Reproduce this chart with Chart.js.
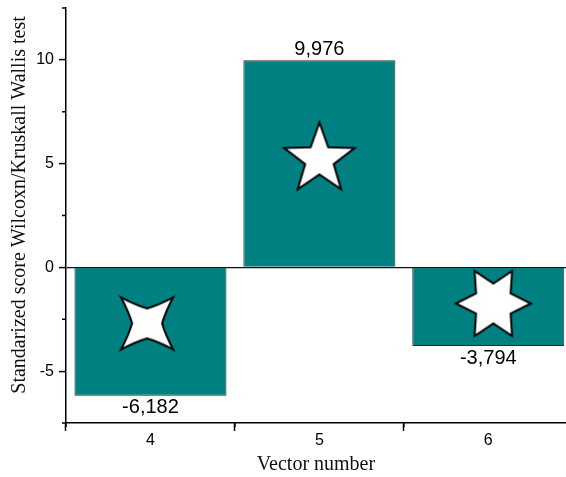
<!DOCTYPE html>
<html>
<head>
<meta charset="utf-8">
<script src="https://cdn.jsdelivr.net/npm/chart.js@4/dist/chart.umd.min.js"></script>
<style>
  html, body { margin: 0; padding: 0; background: #fff; }
  #c { display: block; }
</style>
</head>
<body>
<canvas id="c" width="566" height="477"></canvas>
<script>
// ---- data ----
const categories = [4, 5, 6];
const scores = [-6.182, 9.976, -3.794];
const scoreLabels = ['-6,182', '9,976', '-3,794'];
const markerX = [3.98, 5.0, 6.03];
const markerY = [-2.7, 5.2, -1.74];
const markerPointCounts = [4, 5, 6];
const yTicks = [-5, 0, 5, 10];
const yMinorTicks = [-7.5, -2.5, 2.5, 7.5, 12.5];
const xTicks = [4, 5, 6];
const xMinorTicks = [3.5, 4.5, 5.5];
const xTitle = 'Vector number';
const yTitle = 'Standarized score Wilcoxn/Kruskall Wallis test';

// ---- star images ----
function makeStar(n) {
  const cv = document.createElement('canvas');
  cv.width = 90; cv.height = 90;
  const g = cv.getContext('2d');
  g.translate(45, 45);
  g.beginPath();
  let R, r, start, bend;
  if (n === 4) { R = 37; r = 15; start = -135; bend = 2.5; }
  else if (n === 5) { R = 37; r = 15; start = -90; bend = 0; }
  else { R = 37.5; r = 20; start = 0; bend = 0; }
  const pts = [];
  for (let i = 0; i < 2 * n; i++) {
    const a = (start + i * 180 / n) * Math.PI / 180;
    const rad = i % 2 === 0 ? R : r;
    pts.push([rad * Math.cos(a), rad * Math.sin(a)]);
  }
  g.moveTo(pts[0][0], pts[0][1]);
  for (let i = 1; i <= 2 * n; i++) {
    const p = pts[i - 1], q = pts[i % (2 * n)];
    if (bend) {
      const mx = (p[0] + q[0]) / 2, my = (p[1] + q[1]) / 2;
      const d = Math.hypot(mx, my);
      g.quadraticCurveTo(mx - bend * mx / d, my - bend * my / d, q[0], q[1]);
    } else {
      g.lineTo(q[0], q[1]);
    }
  }
  g.closePath();
  g.fillStyle = '#ffffff';
  g.fill();
  g.lineWidth = 2;
  g.lineJoin = 'miter';
  g.strokeStyle = '#000';
  g.stroke();
  return cv;
}
const starImages = markerPointCounts.map(makeStar);

// ---- plugins ----
const extras = {
  id: 'extras',
  afterDatasetsDraw(chart) {
    const ctx = chart.ctx;
    const meta = chart.getDatasetMeta(0);
    ctx.save();
    ctx.font = '20px "Liberation Sans", Arial, sans-serif';
    ctx.fillStyle = '#000';
    ctx.textAlign = 'center';
    ctx.textBaseline = 'middle';
    meta.data.forEach((el, i) => {
      const y = scores[i] >= 0 ? el.y - 11 : el.y + 12;
      ctx.fillText(scoreLabels[i], el.x, y);
    });
    ctx.restore();
  },
  afterDraw(chart) {
    const ctx = chart.ctx;
    const xs = chart.scales.x, ys = chart.scales.y;
    const area = chart.chartArea;
    ctx.save();
    ctx.strokeStyle = '#000';
    ctx.lineWidth = 1.5;
    ctx.beginPath();
    yMinorTicks.forEach(v => {
      const p = ys.getPixelForValue(v);
      ctx.moveTo(area.left - 4, p);
      ctx.lineTo(area.left, p);
    });
    xMinorTicks.forEach(v => {
      const p = xs.getPixelForValue(v);
      ctx.moveTo(p, area.bottom);
      ctx.lineTo(p, area.bottom + 4);
    });
    ctx.stroke();
    // y axis title
    ctx.font = '20px "Liberation Serif", "Times New Roman", serif';
    ctx.fillStyle = '#111';
    ctx.textAlign = 'center';
    ctx.textBaseline = 'middle';
    ctx.translate(20, 205);
    ctx.rotate(-Math.PI / 2);
    ctx.fillText(yTitle, 0, 0);
    ctx.restore();
  }
};

new Chart(document.getElementById('c'), {
  type: 'bar',
  data: {
    datasets: [
      {
        type: 'bar',
        data: categories.map((c, i) => ({ x: c, y: scores[i] })),
        backgroundColor: '#008080',
        borderColor: '#2a2a2a',
        borderWidth: 1,
        barPercentage: 0.9,
        categoryPercentage: 1.0,
        order: 1
      },
      {
        type: 'line',
        data: markerX.map((x, i) => ({ x: x, y: markerY[i] })),
        showLine: false,
        pointStyle: starImages,
        pointRadius: 1,
        pointHoverRadius: 1,
        clip: false,
        order: 0
      }
    ]
  },
  options: {
    responsive: false,
    animation: false,
    layout: { autoPadding: false, padding: { top: 8, right: 0, left: 0, bottom: 0 } },
    plugins: { legend: { display: false }, tooltip: { enabled: false } },
    scales: {
      x: {
        type: 'linear',
        min: 3.5,
        max: 6.46,
        offset: false,
        afterBuildTicks: s => { s.ticks = xTicks.map(v => ({ value: v })); },
        afterFit: s => { s.height = 54; s.paddingLeft = 0; s.paddingRight = 0; },
        border: { display: true, color: '#000', width: 1.5 },
        grid: { drawOnChartArea: false, drawTicks: true, tickLength: 8, tickColor: '#000', tickWidth: 1.5 },
        ticks: {
          padding: 0,
          color: '#000',
          font: { family: '"Liberation Sans", Arial, sans-serif', size: 16 },
          callback: v => String(v)
        },
        title: {
          display: true,
          text: xTitle,
          color: '#111',
          font: { family: '"Liberation Serif", "Times New Roman", serif', size: 20 },
          padding: { top: 0, bottom: 0 }
        }
      },
      y: {
        type: 'linear',
        min: -7.5,
        max: 12.5,
        afterBuildTicks: s => { s.ticks = yTicks.map(v => ({ value: v })); },
        afterFit: s => { s.width = 66; s.paddingTop = 0; s.paddingBottom = 0; },
        border: { display: true, color: '#000', width: 1.5 },
        grid: {
          drawOnChartArea: true,
          drawTicks: true,
          tickLength: 7,
          tickColor: '#000',
          tickWidth: 1.5,
          color: c => (c.tick && c.tick.value === 0) ? '#111' : 'rgba(0,0,0,0)',
          lineWidth: 1.2
        },
        ticks: {
          padding: 5,
          color: '#000',
          font: { family: '"Liberation Sans", Arial, sans-serif', size: 16 },
          callback: v => String(v)
        }
      }
    }
  },
  plugins: [extras]
});
</script>
</body>
</html>
